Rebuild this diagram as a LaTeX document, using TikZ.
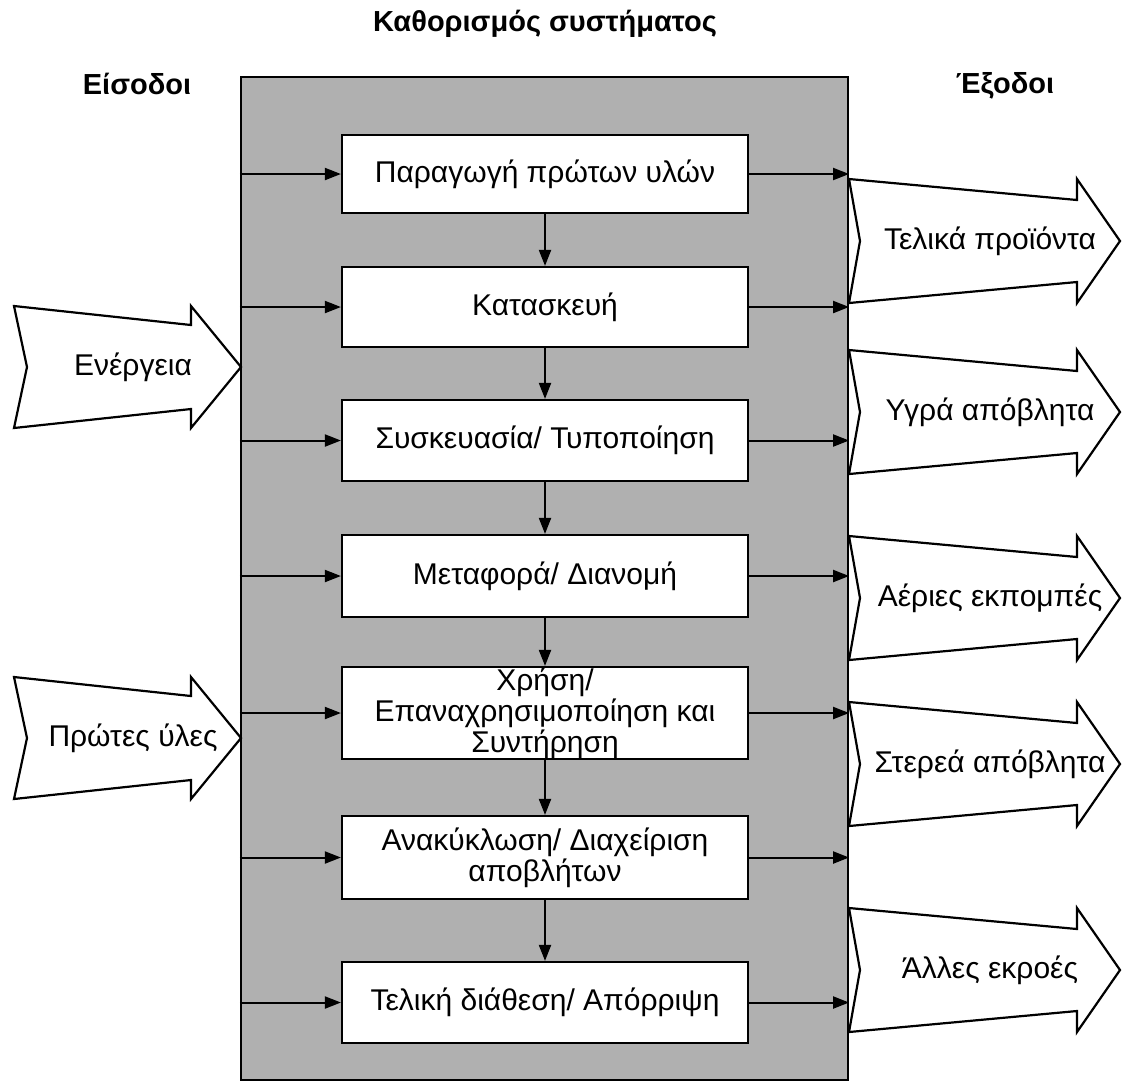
\documentclass[tikz,border=0pt]{standalone}
\usepackage{fontspec}
\setmainfont{Liberation Sans}
\usetikzlibrary{arrows.meta}
\definecolor{panel}{gray}{0.69}
\begin{document}
\begin{tikzpicture}[x=0.5pt,y=-0.5pt,
  stage/.style={draw, line width=1.1pt, fill=white, minimum width=203pt,
    inner sep=0pt, align=center, font=\fontsize{15}{15.5}\selectfont},
  flow/.style={line width=1pt, -{Triangle[length=8pt,width=6pt]}},
  bigarrow/.style={draw, line width=1.1pt, fill=white, line join=miter},
  label/.style={font=\fontsize{15}{18}\selectfont},
  head/.style={font=\bfseries\fontsize{14.5}{17}\selectfont}]
\useasboundingbox (0,0) rectangle (1123,1084);

% headings
\node[head] (title) at (545,24) {Καθορισμός συστήματος};
\node[head] (inhead) at (137,84) {Είσοδοι};
\node[head] (outhead) at (1005,86) {Έξοδοι};

% system boundary
\node[draw, line width=1.1pt, fill=panel, minimum width=303.5pt,
      minimum height=501.5pt, inner sep=0pt] (sys) at (544.5,578.5) {};

% life-cycle stages
\node[stage, minimum height=39pt]   (b1) at (545,174)    {Παραγωγή πρώτων υλών};
\node[stage, minimum height=40pt]   (b2) at (545,307)    {Κατασκευή};
\node[stage, minimum height=40.5pt] (b3) at (545,440.5)  {Συσκευασία/ Τυποποίηση};
\node[stage, minimum height=41pt]   (b4) at (545,576)    {Μεταφορά/ Διανομή};
\node[stage, minimum height=46pt]   (b5) at (545,713)    {Χρήση/\\Επαναχρησιμοποίηση και\\Συντήρηση};
\node[stage, minimum height=41.5pt] (b6) at (545,857.5)  {Ανακύκλωση/ Διαχείριση\\αποβλήτων};
\node[stage, minimum height=40.5pt] (b7) at (545,1002.5) {Τελική διάθεση/ Απόρριψη};

% flows through the system
\foreach \i in {1,...,7} {
  \draw[flow] (b\i -| sys.west) -- (b\i.west);
  \draw[flow] (b\i.east) -- (b\i -| sys.east);
}
\foreach \i/\j in {1/2,2/3,3/4,4/5,5/6,6/7}
  \draw[flow] (b\i.south) -- (b\j.north);

% inputs
\foreach \c/\t [count=\i] in {367/Ενέργεια, 738/Πρώτες ύλες} {
  \draw[bigarrow] (14,\c-61) -- (27,\c) -- (14,\c+61) -- (191,\c+42)
    -- (191,\c+61) -- (241,\c) -- (191,\c-61) -- (191,\c-42) -- cycle;
  \node[label] (in\i) at (133,\c) {\t};
}

% outputs
\foreach \c/\t [count=\i] in {241/Τελικά προϊόντα, 412/Υγρά απόβλητα,
    598/Αέριες εκπομπές, 764/Στερεά απόβλητα, 970/Άλλες εκροές} {
  \draw[bigarrow] (849,\c-62) -- (860,\c) -- (849,\c+62) -- (1077,\c+41)
    -- (1077,\c+62) -- (1120,\c) -- (1077,\c-62) -- (1077,\c-41) -- cycle;
  \node[label] (out\i) at (990,\c) {\t};
}
\end{tikzpicture}
\end{document}
